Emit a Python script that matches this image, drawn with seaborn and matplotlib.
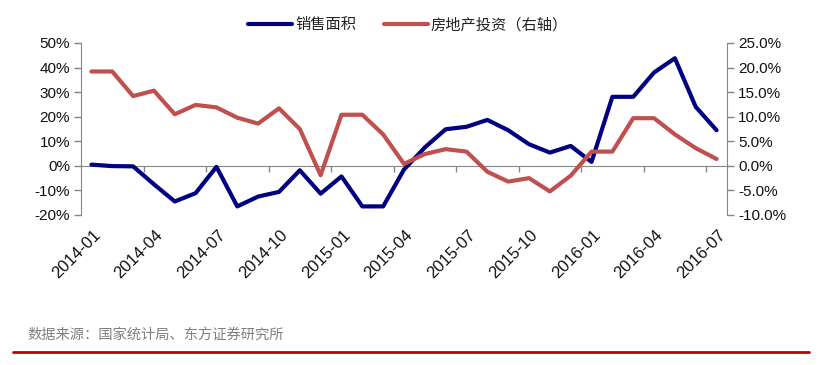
import matplotlib
matplotlib.use('Agg')
import pandas as pd
import matplotlib.pyplot as plt
import matplotlib.transforms as mtransforms
from matplotlib.lines import Line2D
from matplotlib.ticker import FuncFormatter, FixedLocator, MultipleLocator
import seaborn as sns

sns.set_style('white')
plt.rcParams['font.family'] = ['Liberation Sans', 'Noto Sans CJK SC', 'DejaVu Sans']

# monthly categories 2014-01 .. 2016-07
months = ['2014-01', '2014-02', '2014-03', '2014-04', '2014-05', '2014-06',
          '2014-07', '2014-08', '2014-09', '2014-10', '2014-11', '2014-12',
          '2015-01', '2015-02', '2015-03', '2015-04', '2015-05', '2015-06',
          '2015-07', '2015-08', '2015-09', '2015-10', '2015-11', '2015-12',
          '2016-01', '2016-02', '2016-03', '2016-04', '2016-05', '2016-06',
          '2016-07']

# 销售面积, % (left axis)
sales_area = [0.5, -0.1, -0.2, -7.5, -14.5, -11.1, -0.4, -16.5, -12.5, -10.6,
              -1.8, -11.3, -4.3, -16.5, -16.5, -1.5, 7.5, 14.9, 15.9, 18.7,
              14.5, 8.8, 5.4, 8.1, 1.6, 28.1, 28.1, 38.0, 43.8, 24.0, 14.5]

# 房地产投资, % (right axis)
investment = [19.2, 19.2, 14.2, 15.3, 10.5, 12.4, 11.9, 9.8, 8.6, 11.7,
              7.5, -1.9, 10.4, 10.4, 6.4, 0.4, 2.4, 3.4, 2.9, -1.2,
              -3.2, -2.5, -5.2, -2.0, 2.9, 2.9, 9.7, 9.7, 6.4, 3.6, 1.4]

legend_labels = ['销售面积', '房地产投资（右轴）']
source_note = '数据来源：国家统计局、东方证券研究所'

df = pd.DataFrame({'month': months, 'pos': range(len(months)),
                   'sales': sales_area, 'invest': investment})

blue = '#000080'
red = '#C0504D'
grey = '#868686'

fig = plt.figure(figsize=(8.2, 3.65), dpi=100)
ax = fig.add_axes([81 / 820, 150 / 365, 646 / 820, 172 / 365])
ax2 = ax.twinx()

sns.lineplot(data=df, x='pos', y='sales', ax=ax, color=blue, lw=3, zorder=3)
sns.lineplot(data=df, x='pos', y='invest', ax=ax2, color=red, lw=3, zorder=3)

ax.set_xlim(-0.5, len(months) - 0.5)
ax.set_ylim(-20, 50)
ax2.set_ylim(-10, 25)
ax.yaxis.set_major_locator(MultipleLocator(10))
ax2.yaxis.set_major_locator(MultipleLocator(5))
ax.yaxis.set_major_formatter(FuncFormatter(lambda v, p: '{:.0f}%'.format(v)))
ax2.yaxis.set_major_formatter(FuncFormatter(lambda v, p: '{:.1f}%'.format(v)))
ax.set_xlabel('')
ax.set_ylabel('')
ax2.set_ylabel('')

for a in (ax, ax2):
    for s in ('top', 'bottom'):
        a.spines[s].set_visible(False)
ax.spines['right'].set_visible(False)
ax2.spines['left'].set_visible(False)
ax.spines['left'].set_color(grey)
ax2.spines['right'].set_color(grey)

ax.tick_params(axis='y', left=True, length=5, width=1, color=grey,
               labelsize=11, labelcolor='#111111', pad=3)
ax2.tick_params(axis='y', right=True, length=5, width=1, color=grey,
                labelsize=11, labelcolor='#111111', pad=3)

# category labels at bottom, rotated
ax.set_xticks(df['pos'][::3], labels=df['month'][::3])
ax.tick_params(axis='x', bottom=True, length=0, labelsize=12,
               labelcolor='#111111', pad=9)
offset = mtransforms.ScaledTranslation(1 / 100, 0, fig.dpi_scale_trans)
for lab in ax.get_xticklabels():
    lab.set_rotation(45)
    lab.set_ha('right')
    lab.set_va('top')
    lab.set_rotation_mode('anchor')
    lab.set_transform(lab.get_transform() + offset)

# zero line with category boundary ticks
zero_ax = ax.secondary_xaxis(0, transform=ax.transData)
zero_ax.spines['bottom'].set_color(grey)
zero_ax.spines['top'].set_color(grey)
zero_ax.xaxis.set_major_locator(FixedLocator([p + 2.5 for p in df['pos'][::3][:-1]]))
zero_ax.tick_params(axis='x', bottom=True, top=False, direction='out',
                    length=4, width=1, color=grey, labelbottom=False)
zero_ax.set_zorder(1)

handles = [Line2D([], [], color=blue, lw=3), Line2D([], [], color=red, lw=3)]
fig.legend(handles, legend_labels, loc='center', ncol=2, frameon=False,
           bbox_to_anchor=(408 / 820, 1 - 25 / 365), fontsize=11,
           handlelength=2.9, handletextpad=0.2, columnspacing=1.8,
           labelcolor='#222222')

fig.text(27 / 820, 1 - 335 / 365, source_note, fontsize=10.3,
         color='#808080', va='center', ha='left')
fig.add_artist(Line2D([13 / 820, 809 / 820], [1 - 352 / 365] * 2,
                      color='#C00000', lw=2))

fig.savefig('out.png', dpi=100)
